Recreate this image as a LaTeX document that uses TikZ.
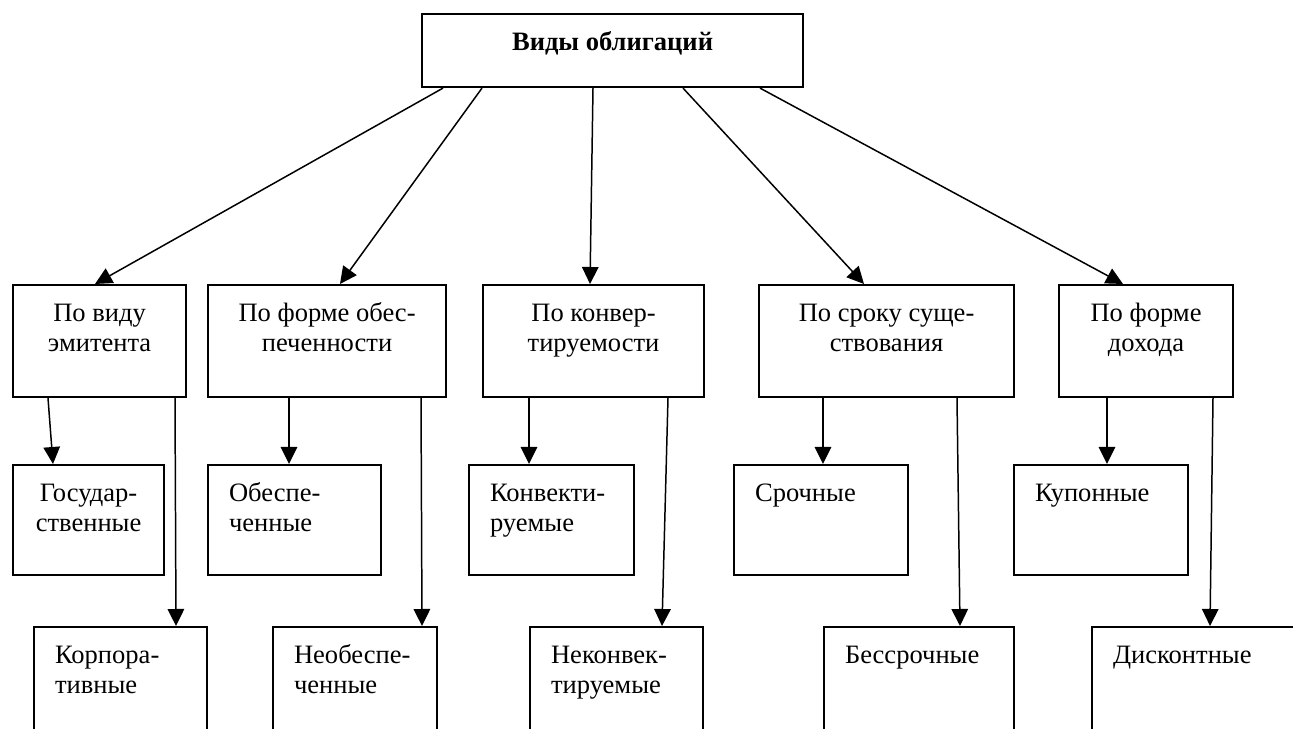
\documentclass[tikz,border=0pt]{standalone}
\usepackage{fontspec}
\setmainfont{Liberation Serif}
\usepackage{tikz}
\usetikzlibrary{arrows.meta}
\newlength\px
\setlength\px{0.2mm}
\newcommand{\cell}[4]{\parbox[t][#2\px][t]{#1\px}{\hyphenpenalty=10000 #3\strut #4}}
\tikzstyle{root}=[rectangle, draw=black, line width=1.2pt, anchor=north west,
  inner xsep=0pt, inner ysep=16\px, font=\fontsize{15.1pt}{17pt}\selectfont\bfseries]
\tikzstyle{cat}=[rectangle, draw=black, line width=1.2pt, anchor=north west,
  inner xsep=0pt, inner ysep=16\px]
\tikzstyle{sub}=[rectangle, draw=black, line width=1.2pt, anchor=north west,
  inner xsep=21\px, inner ysep=16\px]
\tikzstyle{arrow}=[-{Triangle[length=3.4mm, width=3.3mm]}, line width=0.85pt]

\begin{document}
\begin{tikzpicture}[x=0.2mm, y=-0.2mm, font=\fontsize{15.1pt}{17pt}\selectfont]
\useasboundingbox (0,0) rectangle (1293,729);
\clip (0,0) rectangle (1293,729);
\node (r) [root] at (421,13) {\cell{381}{41}{\centering}{Виды облигаций}};
% criteria
\node (m1) [cat] at (12,284) {\cell{173}{80}{\centering}{По виду\\эмитента}};
\node (m2) [cat] at (207,284) {\cell{238}{80}{\centering}{По форме обес-\\печенности}};
\node (m3) [cat] at (482,284) {\cell{221}{80}{\centering}{По конвер-\\тируемости}};
\node (m4) [cat] at (758,284) {\cell{255}{80}{\centering}{По сроку суще-\\ствования}};
\node (m5) [cat] at (1058,284) {\cell{174}{80}{\centering}{По форме\\дохода}};
% first kinds
\node (g1) [sub] at (12,464) {\cell{109}{78}{\centering}{Государ-\\ственные}};
\node (g2) [sub] at (207,464) {\cell{131}{78}{\raggedright}{Обеспе-\\ченные}};
\node (g3) [sub] at (468,464) {\cell{123}{78}{\raggedright}{Конвекти-\\руемые}};
\node (g4) [sub] at (733,464) {\cell{132}{78}{\raggedright}{Срочные}};
\node (g5) [sub] at (1013,464) {\cell{132}{78}{\raggedright}{Купонные}};
% second kinds
\node (h1) [sub] at (33,626) {\cell{131}{108}{\raggedright}{Корпора-\\тивные}};
\node (h2) [sub] at (272,626) {\cell{122}{108}{\raggedright}{Необеспе-\\ченные}};
\node (h3) [sub] at (529,626) {\cell{131}{108}{\raggedright}{Неконвек-\\тируемые}};
\node (h4) [sub] at (823,626) {\cell{148}{108}{\raggedright}{Бессрочные}};
\node (h5) [sub] at (1091,626) {\cell{177}{108}{\raggedright}{Дисконтные}};
\draw[arrow] ([xshift=22\px]r.south west) -- ([xshift=83\px]m1.north west);
\draw[arrow] ([xshift=61\px]r.south west) -- ([xshift=133\px]m2.north west);
\draw[arrow] ([xshift=172\px]r.south west) -- ([xshift=108\px]m3.north west);
\draw[arrow] ([xshift=262\px]r.south west) -- ([xshift=106\px]m4.north west);
\draw[arrow] ([xshift=339\px]r.south west) -- ([xshift=65\px]m5.north west);
\draw[arrow] ([xshift=36\px]m1.south west) -- ([xshift=41\px]g1.north west);
\draw[arrow] ([xshift=163\px]m1.south west) -- ([xshift=143\px]h1.north west);
\draw[arrow] ([xshift=82\px]m2.south west) -- ([xshift=82\px]g2.north west);
\draw[arrow] ([xshift=214\px]m2.south west) -- ([xshift=150\px]h2.north west);
\draw[arrow] ([xshift=47\px]m3.south west) -- ([xshift=61\px]g3.north west);
\draw[arrow] ([xshift=186\px]m3.south west) -- ([xshift=133\px]h3.north west);
\draw[arrow] ([xshift=65\px]m4.south west) -- ([xshift=90\px]g4.north west);
\draw[arrow] ([xshift=199\px]m4.south west) -- ([xshift=137\px]h4.north west);
\draw[arrow] ([xshift=49\px]m5.south west) -- ([xshift=94\px]g5.north west);
\draw[arrow] ([xshift=155\px]m5.south west) -- ([xshift=119\px]h5.north west);
\end{tikzpicture}
\end{document}
